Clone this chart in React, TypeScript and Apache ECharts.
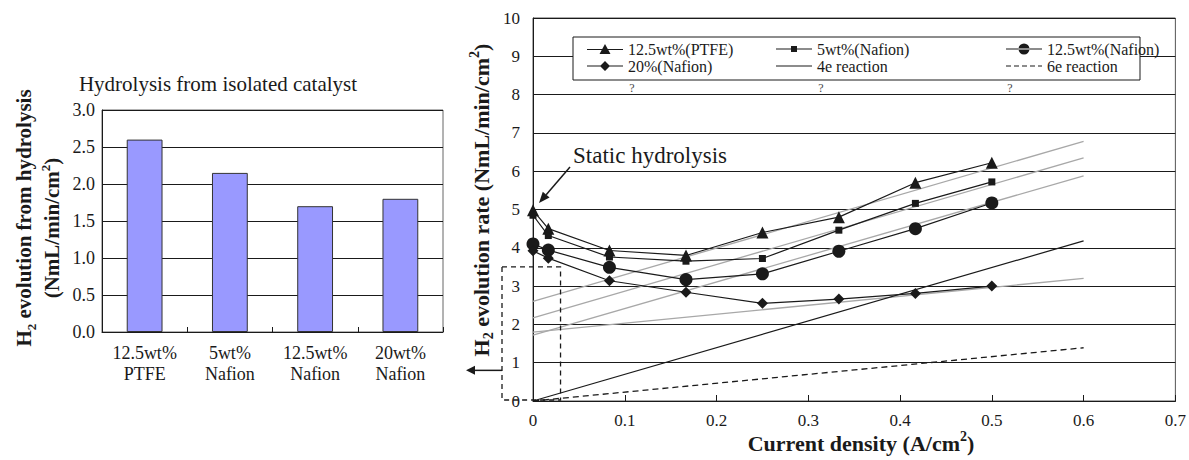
import { useEffect, useRef } from 'react';
import * as echarts from 'echarts';

// ---- Left panel: hydrolysis from isolated catalyst ----
const barCategories = ['12.5wt%\nPTFE', '5wt%\nNafion', '12.5wt%\nNafion', '20wt%\nNafion'];
const hydrolysisRates = [2.6, 2.15, 1.7, 1.8];

// ---- Right panel: H2 evolution rate vs current density ----
const currentDensity = [0, 0.0167, 0.0833, 0.1667, 0.25, 0.3333, 0.4167, 0.5];
const ratePTFE125 = [4.98, 4.5, 3.93, 3.8, 4.4, 4.8, 5.7, 6.22];
const rateNafion5 = [4.85, 4.32, 3.76, 3.65, 3.72, 4.46, 5.16, 5.72];
const rateNafion125 = [4.1, 3.94, 3.49, 3.17, 3.32, 3.91, 4.5, 5.17];
const rateNafion20 = [3.92, 3.73, 3.14, 2.84, 2.55, 2.66, 2.81, 3.0];

const theoryX = [0, 0.6];
const rate4e = [0, 4.18];
const rate6e = [0, 1.39];
const fitPTFE125 = [2.6, 6.78];
const fitNafion5 = [2.17, 6.35];
const fitNafion125 = [1.72, 5.88];
const fitNafion20 = [1.8, 3.2];

const SERIF = 'Liberation Serif';
const INK = '#1a1a1a';

// legend icons: a thin line with the series marker on it
const LINE = 'M0,6.4H36V7.6H0Z';
const icons: Record<string, string> = {
  '12.5wt%(PTFE)': `path://${LINE}M18,1.5L23.5,11.5H12.5Z`,
  '5wt%(Nafion)': `path://${LINE}M15,4H21V10H15Z`,
  '12.5wt%(Nafion)': `path://${LINE}M12.5,7A5.5,5.5 0 1,0 23.5,7A5.5,5.5 0 1,0 12.5,7Z`,
  '20%(Nafion)': `path://${LINE}M18,2L23,7L18,12L13,7Z`,
  '4e reaction': `path://${LINE}`,
  '6e reaction': 'path://M0,6.4H5V7.6H0ZM8,6.4H13V7.6H8ZM16,6.4H21V7.6H16ZM24,6.4H29V7.6H24ZM32,6.4H36V7.6H32Z',
};

const pair = (xs: number[], ys: number[]) => xs.map((x, i) => [x, ys[i]]);

const richBold = (size: number) => ({
  b: { fontFamily: SERIF, fontWeight: 'bold', fontSize: size, lineHeight: size + 6, fill: INK },
  sub: { fontFamily: SERIF, fontWeight: 'bold', fontSize: Math.round(size * 0.62), lineHeight: Math.round(size * 0.62), verticalAlign: 'bottom', fill: INK },
  sup: { fontFamily: SERIF, fontWeight: 'bold', fontSize: Math.round(size * 0.62), lineHeight: Math.round(size * 0.62), verticalAlign: 'top', fill: INK },
});

function arrow(from: number[], to: number[], head = 11, half = 4.5) {
  const dx = to[0] - from[0];
  const dy = to[1] - from[1];
  const len = Math.sqrt(dx * dx + dy * dy);
  const ux = dx / len;
  const uy = dy / len;
  const bx = to[0] - ux * head;
  const by = to[1] - uy * head;
  return [
    { type: 'line', z: 6, shape: { x1: from[0], y1: from[1], x2: bx, y2: by }, style: { stroke: INK, lineWidth: 1.5 } },
    {
      type: 'polygon', z: 6,
      shape: { points: [[to[0], to[1]], [bx - uy * half, by + ux * half], [bx + uy * half, by - ux * half]] },
      style: { fill: INK },
    },
  ];
}

export default function App() {
  const ref = useRef<HTMLDivElement>(null);

  useEffect(() => {
    if (!ref.current) return;
    const chart = echarts.init(ref.current, null, { renderer: 'svg' });

    const lineSeries = (name: string, ys: number[], symbol: string, size: number) => ({
      name, type: 'line', xAxisIndex: 1, yAxisIndex: 1,
      data: pair(currentDensity, ys), symbol, symbolSize: size,
      color: INK, lineStyle: { color: INK, width: 1.2 }, itemStyle: { color: INK },
      z: 4,
    });
    const fitSeries = (name: string, ys: number[]) => ({
      name, type: 'line', xAxisIndex: 1, yAxisIndex: 1,
      data: pair(theoryX, ys), symbol: 'none', silent: true,
      color: '#a8a8a8', lineStyle: { color: '#a8a8a8', width: 1.3 }, z: 2,
    });

    const legendBase = {
      orient: 'vertical', top: 41, itemGap: 1, itemWidth: 36, itemHeight: 14,
      selectedMode: false, padding: 0,
      textStyle: { fontFamily: SERIF, fontSize: 16, color: INK },
    };
    const legendItems = (names: string[]) => names.map((name) => ({ name, icon: icons[name] }));

    chart.setOption({
      animation: false,
      backgroundColor: '#fff',
      grid: [
        { left: 102, top: 110, width: 341, height: 222, show: true, borderColor: '#666', borderWidth: 1 },
        { left: 533, top: 18, width: 644, height: 383, show: true, borderColor: '#555', borderWidth: 1 },
      ],
      xAxis: [
        {
          gridIndex: 0, type: 'category', data: barCategories,
          axisLine: { lineStyle: { color: INK } },
          axisTick: { show: true, inside: true, length: 5, lineStyle: { color: INK } },
          axisLabel: { fontFamily: SERIF, fontSize: 18, color: INK, lineHeight: 21, margin: 10 },
        },
        {
          gridIndex: 1, type: 'value', min: 0, max: 0.7, interval: 0.1,
          axisLine: { lineStyle: { color: INK } },
          axisTick: { show: true, inside: true, length: 6, lineStyle: { color: INK } },
          axisLabel: { fontFamily: SERIF, fontSize: 17, color: INK, margin: 11, formatter: (v: number) => (v === 0 ? '0' : v.toFixed(1)) },
          splitLine: { show: false },
        },
      ],
      yAxis: [
        {
          gridIndex: 0, type: 'value', min: 0, max: 3, interval: 0.5,
          axisLine: { show: true, lineStyle: { color: INK } },
          axisTick: { show: false },
          axisLabel: { fontFamily: SERIF, fontSize: 18, color: INK, margin: 7, formatter: (v: number) => v.toFixed(1) },
          splitLine: { lineStyle: { color: INK, width: 1 } },
        },
        {
          gridIndex: 1, type: 'value', min: 0, max: 10, interval: 1,
          axisLine: { show: true, lineStyle: { color: INK } },
          axisTick: { show: false },
          axisLabel: { fontFamily: SERIF, fontSize: 17, color: INK, margin: 13 },
          splitLine: { lineStyle: { color: INK, width: 1 } },
        },
      ],
      legend: [
        { ...legendBase, left: 587, data: legendItems(['12.5wt%(PTFE)', '20%(Nafion)']) },
        { ...legendBase, left: 776, data: legendItems(['5wt%(Nafion)', '4e reaction']) },
        { ...legendBase, left: 1006, data: legendItems(['12.5wt%(Nafion)', '6e reaction']) },
      ],
      series: [
        {
          name: 'Hydrolysis', type: 'bar', xAxisIndex: 0, yAxisIndex: 0,
          data: hydrolysisRates, barWidth: '42%',
          itemStyle: { color: '#9999ff', borderColor: '#333', borderWidth: 1 },
        },
        fitSeries('fit 12.5wt%(PTFE)', fitPTFE125),
        fitSeries('fit 5wt%(Nafion)', fitNafion5),
        fitSeries('fit 12.5wt%(Nafion)', fitNafion125),
        fitSeries('fit 20%(Nafion)', fitNafion20),
        {
          name: '4e reaction', type: 'line', xAxisIndex: 1, yAxisIndex: 1,
          data: pair(theoryX, rate4e), symbol: 'none', color: INK,
          lineStyle: { color: INK, width: 1.2 }, z: 3,
        },
        {
          name: '6e reaction', type: 'line', xAxisIndex: 1, yAxisIndex: 1,
          data: pair(theoryX, rate6e), symbol: 'none', color: INK,
          lineStyle: { color: INK, width: 1.3, type: [6, 4] }, z: 3,
        },
        lineSeries('12.5wt%(PTFE)', ratePTFE125, 'triangle', 12),
        lineSeries('5wt%(Nafion)', rateNafion5, 'rect', 7),
        lineSeries('12.5wt%(Nafion)', rateNafion125, 'circle', 13),
        lineSeries('20%(Nafion)', rateNafion20, 'diamond', 11),
      ],
    });

    const px = (x: number, y: number) => chart.convertToPixel({ gridIndex: 1 }, [x, y]) as number[];
    const origin = px(0, 0);
    const boxRight = px(0.03, 0)[0];
    const boxTop = px(0, 3.5)[1];
    const boxLeft = origin[0] - 31;
    const arrowY = px(0, 0.8)[1];

    const graphic: any[] = [
      // left title
      {
        type: 'text', x: 218, y: 84, z: 6,
        style: { text: 'Hydrolysis from isolated catalyst', font: `21px "${SERIF}"`, fill: INK, align: 'center', verticalAlign: 'middle' },
      },
      // left y-axis name (two lines)
      {
        type: 'text', x: 24, y: 218, rotation: Math.PI / 2, z: 6,
        style: { text: '{b|H}{sub|2}{b| evolution from hydrolysis}', rich: richBold(21), align: 'center', verticalAlign: 'middle' },
      },
      {
        type: 'text', x: 52, y: 228, rotation: Math.PI / 2, z: 6,
        style: { text: '{b|(NmL/min/cm}{sup|2}{b|)}', rich: richBold(21), align: 'center', verticalAlign: 'middle' },
      },
      // right y-axis name
      {
        type: 'text', x: 481, y: 200, rotation: Math.PI / 2, z: 6,
        style: { text: '{b|H}{sub|2}{b| evolution rate (NmL/min/cm}{sup|2}{b|)}', rich: richBold(22), align: 'center', verticalAlign: 'middle' },
      },
      // right x-axis name
      {
        type: 'text', x: 861, y: 443, z: 6,
        style: { text: '{b|Current density (A/cm}{sup|2}{b|)}', rich: richBold(22), align: 'center', verticalAlign: 'middle' },
      },
      // legend box
      {
        type: 'rect', z: 3, shape: { x: 573, y: 37, width: 567, height: 43 },
        style: { fill: '#fff', stroke: INK, lineWidth: 1 },
      },
      // stray marks under the legend
      ...[632, 821, 1010].map((x) => ({
        type: 'text', x, y: 88, z: 6,
        style: { text: '?', font: `12px "${SERIF}"`, fill: '#444', align: 'center', verticalAlign: 'middle' },
      })),
      // static hydrolysis annotation
      {
        type: 'text', x: 573, y: 155, z: 6,
        style: { text: 'Static hydrolysis', font: `23px "${SERIF}"`, fill: INK, align: 'left', verticalAlign: 'middle' },
      },
      ...arrow([570, 167], [539, 203]),
      // dashed zoom box around low current region
      {
        type: 'rect', z: 6,
        shape: { x: boxLeft, y: boxTop, width: boxRight - boxLeft, height: origin[1] - 1 - boxTop },
        style: { fill: 'none', stroke: INK, lineWidth: 1.3, lineDash: [5, 4] },
      },
      ...arrow([boxLeft, arrowY], [boxLeft - 36, arrowY], 9, 4.5),
    ];

    chart.setOption({ graphic });

    return () => chart.dispose();
  }, []);

  return (
    <div
      ref={ref}
      style={{ position: 'fixed', left: 0, top: 0, width: '1189px', height: '460px', background: '#fff' }}
    />
  );
}
